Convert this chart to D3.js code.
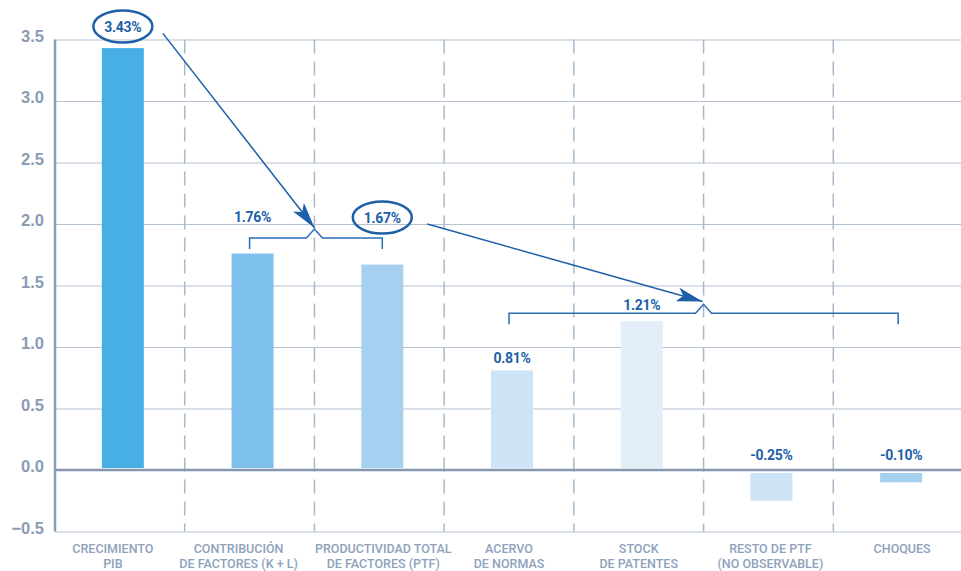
<!DOCTYPE html>
<html>
<head>
<meta charset="utf-8">
<script src="https://cdn.jsdelivr.net/npm/d3@7"></script>
<style>
  body { margin: 0; background: #fff; }
  svg { display: block; font-family: Roboto, "DejaVu Sans", sans-serif; }
</style>
</head>
<body>
<div id="chart"></div>
<script>
// datos
var categories = [
  ["CRECIMIENTO", "PIB"],
  ["CONTRIBUCIÓN", "DE FACTORES (K + L)"],
  ["PRODUCTIVIDAD TOTAL", "DE FACTORES (PTF)"],
  ["ACERVO", "DE NORMAS"],
  ["STOCK", "DE PATENTES"],
  ["RESTO DE PTF", "(NO OBSERVABLE)"],
  ["CHOQUES"]
];
var values = [3.43, 1.76, 1.67, 0.81, 1.21, -0.25, -0.10];
var valueLabels = ["3.43%", "1.76%", "1.67%", "0.81%", "1.21%", "-0.25%", "-0.10%"];
var yTicks = [-0.5, 0, 0.5, 1, 1.5, 2, 2.5, 3, 3.5];

var barColors = ["#47afe6", "#7ec1ec", "#a6d0ef", "#cde4f7", "#e4eef9", "#cde4f7", "#a6d0ef"];

// layout (posiciones de anotaciones, en unidades del eje y)
var labelLevel = [3.565, 2.014, 2.012, 0.872, 1.30, 0.081, 0.081];
var circled = [0, 2];
var catNudge = [-7, -11, 4, 0, 0, 2, 4];

var W = 961, H = 571;
var pLeft = 55, pRight = 963, pTop = 39.5, pBottom = 531.5;

var svg = d3.select("#chart").append("svg")
  .attr("width", W).attr("height", H);

var x = d3.scaleBand().domain(d3.range(categories.length)).range([pLeft, pRight]);
var y = d3.scaleLinear().domain([-0.5, 3.5]).range([pBottom, pTop]);

var barW = 42, barShift = 3;
var dark = "#1d60a8", gridC = "#b3c1d0", axisC = "#8a9cb3";

function cx(i) { return x(i) + x.bandwidth() / 2 + barShift; }

// grid horizontal + etiquetas
var yAxis = svg.append("g")
  .attr("transform", "translate(" + pLeft + ",0)")
  .call(d3.axisLeft(y).tickValues(yTicks).tickSize(-(pRight - pLeft)).tickPadding(11)
    .tickFormat(d3.format(".1f")));
yAxis.select(".domain").remove();
yAxis.selectAll(".tick line").attr("stroke", gridC).attr("stroke-width", 1.2);
yAxis.selectAll(".tick text")
  .attr("fill", axisC).attr("font-size", "16.5px").attr("font-weight", 700)
  .attr("dy", "0.1em");

// lineas verticales punteadas
svg.append("g").selectAll("line")
  .data(d3.range(1, categories.length))
  .enter().append("line")
  .attr("x1", function(d) { return x(d); })
  .attr("x2", function(d) { return x(d); })
  .attr("y1", pTop).attr("y2", pBottom)
  .attr("stroke", "#a9b9ca").attr("stroke-width", 1.5)
  .attr("stroke-dasharray", "14,8");

// barras
svg.append("g").selectAll("rect")
  .data(values)
  .enter().append("rect")
  .attr("x", function(d, i) { return cx(i) - barW / 2; })
  .attr("width", barW)
  .attr("y", function(d) { return d >= 0 ? y(d) : y(0) + 3; })
  .attr("height", function(d) { return d >= 0 ? y(0) - 2 - y(d) : y(d) - y(0) - 3; })
  .attr("fill", function(d, i) { return barColors[i]; });

// eje cero y eje izquierdo
svg.append("line")
  .attr("x1", pLeft).attr("x2", pRight).attr("y1", y(0)).attr("y2", y(0))
  .attr("stroke", "#8597ae").attr("stroke-width", 2.5);
svg.append("line")
  .attr("x1", pLeft).attr("x2", pLeft).attr("y1", pTop).attr("y2", pBottom)
  .attr("stroke", axisC).attr("stroke-width", 2.5);

// etiquetas de categoria
var cat = svg.append("g").selectAll("text")
  .data(categories)
  .enter().append("text")
  .attr("x", function(d, i) { return x(i) + x.bandwidth() / 2 + catNudge[i]; })
  .attr("y", 553)
  .attr("text-anchor", "middle")
  .attr("fill", "#8ea2bb").attr("font-size", "12.5px").attr("font-weight", 500);
cat.selectAll("tspan")
  .data(function(d) { return d; })
  .enter().append("tspan")
  .attr("x", function() { return d3.select(this.parentNode).attr("x"); })
  .attr("dy", function(d, j) { return j ? 15 : 0; })
  .text(function(d) { return d; });

// etiquetas de valor
svg.append("g").selectAll("text")
  .data(valueLabels)
  .enter().append("text")
  .attr("x", function(d, i) { return cx(i); })
  .attr("y", function(d, i) { return y(labelLevel[i]); })
  .attr("text-anchor", "middle")
  .attr("fill", dark).attr("font-size", "14px").attr("font-weight", 700)
  .attr("letter-spacing", "-0.3px")
  .text(function(d) { return d; });

// elipses
svg.append("g").selectAll("ellipse")
  .data(circled)
  .enter().append("ellipse")
  .attr("cx", function(i) { return cx(i); })
  .attr("cy", function(i) { return y(labelLevel[i]) - 5; })
  .attr("rx", 29.5).attr("ry", 16)
  .attr("fill", "none").attr("stroke", dark).attr("stroke-width", 2.5);

// llaves
function bracket(x1, x2, xm, lv) {
  var yb = y(lv), h = 11, c = 8, a = 9;
  return "M" + x1 + "," + (yb + h) + "V" + yb + "H" + (xm - c) +
    "L" + xm + "," + (yb - a) + "L" + (xm + c) + "," + yb + "H" + x2 + "V" + (yb + h);
}
var brackets = [
  { from: 1, to: 2, mid: 2, lv: 1.886 },
  { from: 3, to: 6, mid: 5, lv: 1.274 }
];
svg.append("g").selectAll("path")
  .data(brackets)
  .enter().append("path")
  .attr("d", function(b) {
    var x1 = x(b.from) + x.bandwidth() / 2;
    var x2 = b.to === 6 ? x(b.to) + x.bandwidth() / 2 : cx(b.to);
    return bracket(x1, x2, x(b.mid), b.lv);
  })
  .attr("fill", "none").attr("stroke", "#2a6db5").attr("stroke-width", 1.5);

// flechas
svg.append("defs").append("marker")
  .attr("id", "head").attr("markerUnits", "userSpaceOnUse")
  .attr("viewBox", "0 0 26 14").attr("refX", 26).attr("refY", 7)
  .attr("markerWidth", 26).attr("markerHeight", 14).attr("orient", "auto")
  .append("path").attr("d", "M0,0L26,7L0,14L6,7Z").attr("fill", dark);

var arrows = [
  { x1: cx(0) + 40, y1: y(3.55), x2: x(2), y2: y(1.97) },
  { x1: cx(2) + 45, y1: y(2.0), x2: x(5) - 1, y2: y(1.37) }
];
svg.append("g").selectAll("line")
  .data(arrows)
  .enter().append("line")
  .attr("x1", function(d) { return d.x1; }).attr("y1", function(d) { return d.y1; })
  .attr("x2", function(d) { return d.x2; }).attr("y2", function(d) { return d.y2; })
  .attr("stroke", dark).attr("stroke-width", 1.5)
  .attr("marker-end", "url(#head)");
</script>
</body>
</html>
